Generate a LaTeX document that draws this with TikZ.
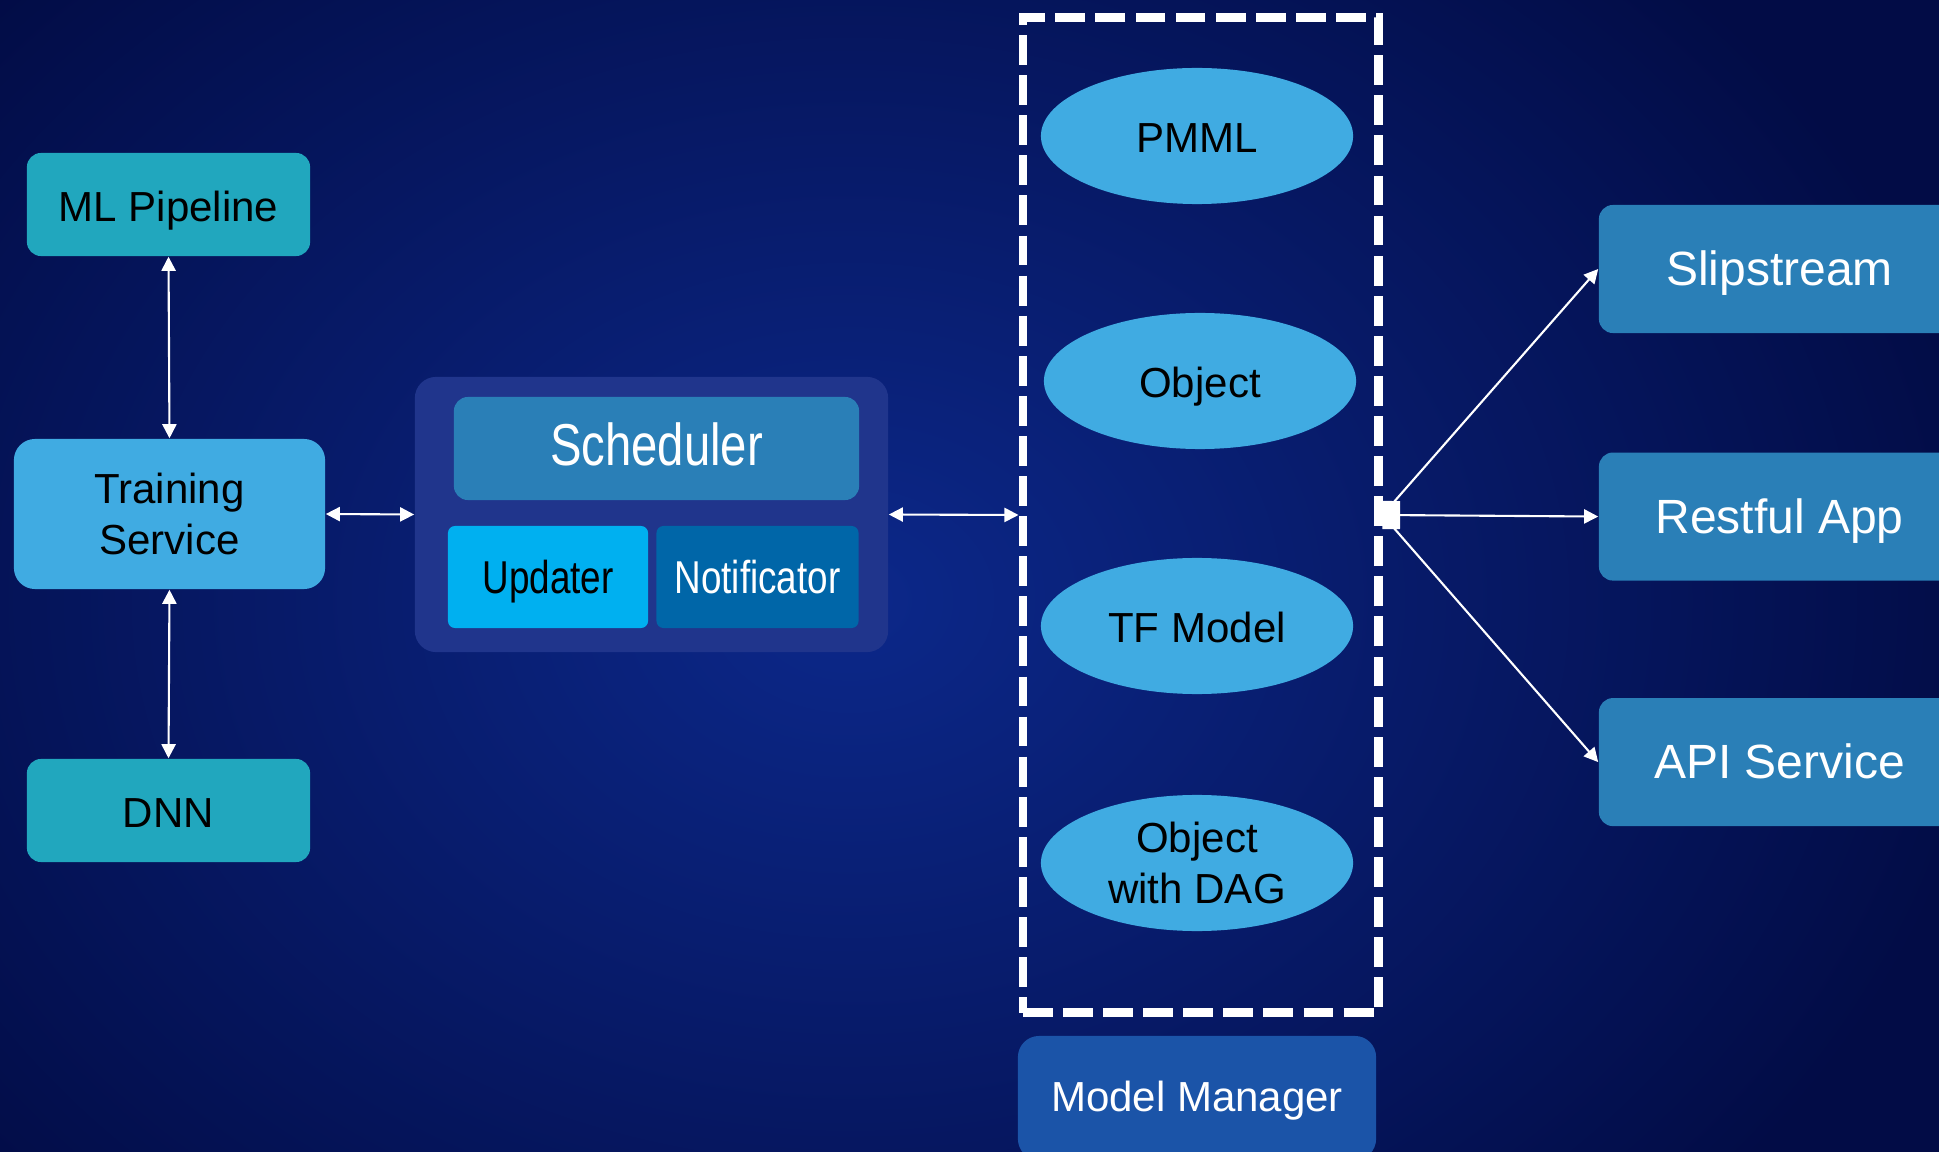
\documentclass[tikz,border=0pt]{standalone}
\usepackage{fontspec}
\setmainfont{Liberation Sans}
\newfontfamily\narrowfont[FakeStretch=0.8]{Liberation Sans}
\usetikzlibrary{positioning,arrows.meta,shapes.geometric}

\definecolor{bgin}{RGB}{12,40,138}
\definecolor{bgout}{RGB}{2,12,70}
\definecolor{tealbox}{RGB}{33,167,190}
\definecolor{skybox}{RGB}{64,171,226}
\definecolor{grpbox}{RGB}{32,53,140}
\definecolor{midbox}{RGB}{42,127,183}
\definecolor{updbox}{RGB}{0,176,240}
\definecolor{notbox}{RGB}{0,102,168}
\definecolor{mgrbox}{RGB}{27,84,168}

\tikzset{
  blk/.style={rectangle, rounded corners=4pt, inner sep=0pt, align=center,
    font=\fontsize{11.95}{14.4}\selectfont},
  oneline/.style={text height=0.96em, text depth=0pt},
  oval/.style={ellipse, fill=skybox, inner sep=0pt, align=center,
    minimum width=3.12cm, minimum height=1.36cm,
    font=\fontsize{11.95}{14.4}\selectfont},
  outbox/.style={blk, oneline, fill=midbox, text=white, minimum width=3.61cm,
    minimum height=1.28cm, font=\fontsize{13.66}{16}\selectfont},
  arr/.style={draw=white, line width=0.6pt, -{Triangle[length=4pt,width=4pt]}},
  dbl/.style={arr, {Triangle[length=4pt,width=4pt]}-{Triangle[length=4pt,width=4pt]}}
}

\begin{document}
\begin{tikzpicture}[x=0.01cm, y=-0.01cm]
  \clip (0,0) rectangle (1939,1152);
  \shade[inner color=bgin, outer color=bgout] (-300,-300) rectangle (2000,1500);

  % training side
  \node[blk, oneline, fill=tealbox, minimum width=2.83cm, minimum height=1.03cm] (ml) at (168.5,204.5) {ML Pipeline};
  \node[blk, fill=skybox, rounded corners=6pt, minimum width=3.11cm, minimum height=1.50cm] (train) at (169.5,514) {Training\\Service};
  \node[blk, oneline, fill=tealbox, minimum width=2.83cm, minimum height=1.03cm] (dnn) at (168.5,810.5) {DNN};

  % scheduler group
  \node[blk, fill=grpbox, rounded corners=6pt, minimum width=4.73cm, minimum height=2.75cm] (grp) at (651.5,514.5) {};
  \node[blk, oneline, fill=midbox, text=white, minimum width=4.05cm, minimum height=1.03cm,
    font=\narrowfont\fontsize{16.8}{19}\selectfont] (sched) at (656.5,448.5) {Scheduler};
  \node[blk, oneline, fill=updbox, rounded corners=2pt, minimum width=2.00cm, minimum height=1.02cm,
    font=\narrowfont\fontsize{13.1}{15}\selectfont] (upd) at (548,577) {Updater};
  \node[blk, oneline, fill=notbox, text=white, rounded corners=2pt, minimum width=2.02cm, minimum height=1.02cm,
    font=\narrowfont\fontsize{13.1}{15}\selectfont] (notif) [right=0.07cm of upd] {Notificator};

  % model manager
  \node[oval, oneline] (pmml) at (1197,136) {PMML};
  \node[oval, oneline] (obj) at (1200,381) {Object};
  \node[oval, oneline] (tf) at (1197,626) {TF Model};
  \node[oval] (dag) at (1197,863) {Object\\with DAG};
  \node[rectangle, draw=white, line width=2.5pt, dash pattern=on 8.5pt off 2.9pt,
    minimum width=3.55cm, minimum height=9.95cm] (mmbox) at (1200.5,515) {};
  \node[blk, fill=mgrbox, text=white, rounded corners=6pt, minimum width=3.58cm, minimum height=1.24cm,
    text height=0.78em, text depth=0pt] (mgr) at (1197,1098) {Model Manager};

  % consumers
  \node[outbox] (slip) at (1779.5,269) {Slipstream};
  \node[outbox] (rest) [below=1.18cm of slip] {Restful App};
  \node[outbox] (api) [below=1.16cm of rest] {API Service};

  \draw[dbl] (ml.south) -- (train.north);
  \draw[dbl] (train.south) -- (dnn.north);
  \draw[dbl] (train.east) -- (grp.west);
  \draw[dbl] (grp.east) -- (mmbox.west);

  \coordinate (hub) at (mmbox.east);
  \draw[arr] (hub) -- (slip.west);
  \draw[arr, {Square[length=5pt,width=8pt]}-{Triangle[length=4pt,width=4pt]}] (hub) -- (rest.west);
  \draw[arr] (hub) -- (api.west);
\end{tikzpicture}
\end{document}
